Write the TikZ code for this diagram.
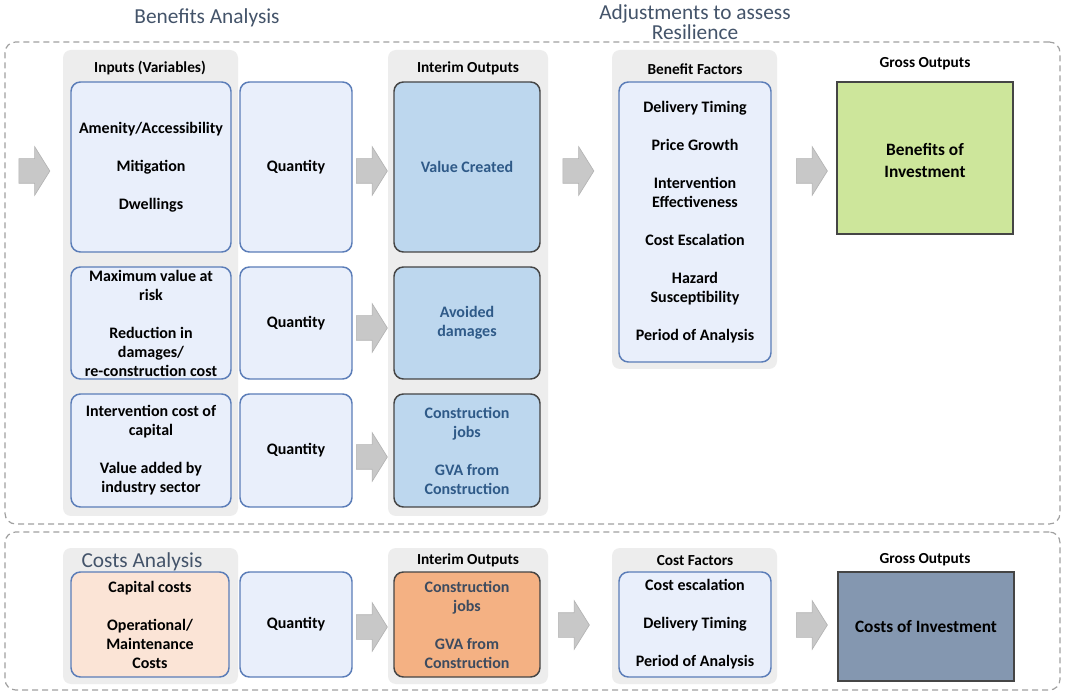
\documentclass[tikz,border=0pt]{standalone}
\usepackage{fontspec}
\setmainfont{Carlito}
\usetikzlibrary{fit,shapes.arrows}
\definecolor{boxblue}{HTML}{E9EFFB}
\definecolor{boxedge}{HTML}{5B7DB8}
\definecolor{intfill}{HTML}{BDD7EE}
\definecolor{intedge}{HTML}{454545}
\definecolor{inttext}{HTML}{2F5A88}
\definecolor{panelc}{HTML}{EDEDED}
\definecolor{dashc}{HTML}{A0A0A0}
\definecolor{greenf}{HTML}{CDE69B}
\definecolor{peach}{HTML}{FBE4D6}
\definecolor{orangef}{HTML}{F4B183}
\definecolor{slatef}{HTML}{8497B0}
\definecolor{titlec}{HTML}{44546A}
\definecolor{arrowf}{HTML}{C8C8C8}
\definecolor{arrowd}{HTML}{B4B4B4}
\begin{document}
\begin{tikzpicture}[x=0.75pt,y=-0.75pt,
  every node/.style={font=\fontsize{12}{14.25}\selectfont\bfseries, align=center, inner sep=0pt},
  dashbox/.style={draw=dashc, line width=0.9pt, dash pattern=on 4.5pt off 3pt, rounded corners=8pt},
  panelbox/.style={fill=panelc, rounded corners=6pt},
  inbox/.style={fill=boxblue, draw=boxedge, line width=1.1pt, rounded corners=7pt},
  peachbox/.style={inbox, fill=peach},
  intbox/.style={fill=intfill, draw=intedge, line width=1.1pt, rounded corners=7pt},
  orangebox/.style={intbox, fill=orangef},
  grossbox/.style={draw=intedge, line width=1.1pt},
  inttxt/.style={text=inttext},
  orangetxt/.style={text=titlec!90!black},
  bigtxt/.style={font=\fontsize{13}{16.5}\selectfont\bfseries},
  label/.style={font=\fontsize{11.5}{13}\selectfont\bfseries},
  title/.style={font=\fontsize{16}{15}\selectfont, text=titlec},
  blockarrow/.style={single arrow, fill=arrowf, draw=arrowd, line width=0.5pt,
    minimum height=23.25pt, single arrow head extend=9pt, inner xsep=0pt, inner ysep=9pt,
    single arrow tip angle=116},
]
\useasboundingbox[fill=white] (0,0) rectangle (1065,695);

% dashed containers
\node[dashbox, fit={(5,42)(1060,524)}] (benefits) {};
\node[dashbox, fit={(5,532)(1060,690)}] (costs) {};

% titles
\node[title] (tba) at (207,18) {Benefits Analysis};
\node[title] (tadj) at (695,22) {Adjustments to assess\\Resilience};

% grey panels
\node[panelbox, fit={(63,50)(238,516)}] (pin) {};
\node[panelbox, fit={(388,50)(548,516)}] (pint) {};
\node[panelbox, fit={(612,50)(777,369)}] (pfac) {};
\node[panelbox, fit={(63,548)(238,684)}] (pcin) {};
\node[panelbox, fit={(388,548)(548,684)}] (pcint) {};
\node[panelbox, fit={(612,548)(777,684)}] (pcfac) {};

% panel labels
\node[label] (lin) at (150,68) {Inputs (Variables)};
\node[label] (lint) at (468,68) {Interim Outputs};
\node[label] (lfac) at (695,69) {Benefit Factors};
\node[label] (lgross) at (925,64) {Gross Outputs};
\node[title] (tca) at (142,562) {Costs Analysis};
\node[label] (lcint) at (468,560) {Interim Outputs};
\node[label] (lcfac) at (695,561) {Cost Factors};
\node[label] (lcgross) at (925,560) {Gross Outputs};

% boxes
\node[inbox, fit={(71,82)(231,252)}] (in1) {};
\node[inbox, fit={(240,82)(352,252)}] (q1) {};
\node[intbox, fit={(394,82)(540,252)}] (vc) {};
\node[inbox, fit={(71,267)(231,379)}] (in2) {};
\node[inbox, fit={(240,267)(352,379)}] (q2) {};
\node[intbox, fit={(394,267)(540,379)}] (ad) {};
\node[inbox, fit={(71,394)(231,507)}] (in3) {};
\node[inbox, fit={(240,394)(352,507)}] (q3) {};
\node[intbox, fit={(394,394)(540,507)}] (cj) {};
\node[inbox, fit={(619,82)(771,362)}] (bf) {};
\node[grossbox, fill=greenf, fit={(837,82)(1013,234)}] (boi) {};
\node[peachbox, fit={(71,572)(229,677)}] (cc) {};
\node[inbox, fit={(240,572)(352,677)}] (q4) {};
\node[orangebox, fit={(394,572)(540,677)}] (ccj) {};
\node[inbox, fit={(619,572)(771,677)}] (cf) {};
\node[grossbox, fill=slatef, fit={(838,572)(1014,681)}] (coi) {};

% box texts
\node (in1t) at (in1.center) {Amenity/Accessibility\\[14.25pt]Mitigation\\[14.25pt]Dwellings};
\node (q1t) at (q1.center) {Quantity};
\node[inttxt] (vct) at (vc.center) {Value Created};
\node (in2t) at (in2.center) {Maximum value at\\risk\\[14.25pt]Reduction in\\damages/\\re-construction cost};
\node (q2t) at (q2.center) {Quantity};
\node[inttxt] (adt) at (ad.center) {Avoided\\damages};
\node (in3t) at (in3.center) {Intervention cost of\\capital\\[14.25pt]Value added by\\industry sector};
\node (q3t) at (q3.center) {Quantity};
\node[inttxt] (cjt) at (cj.center) {Construction\\jobs\\[14.25pt]GVA from\\Construction};
\node (bft) at (bf.center) {Delivery Timing\\[14.25pt]Price Growth\\[14.25pt]Intervention\\Effectiveness\\[14.25pt]Cost Escalation\\[14.25pt]Hazard\\Susceptibility\\[14.25pt]Period of Analysis};
\node[bigtxt] (boit) at ([yshift=-1.5pt]boi.center) {Benefits of\\Investment};
\node (cct) at (cc.center) {Capital costs\\[14.25pt]Operational/\\Maintenance\\Costs};
\node (q4t) at (q4.center) {Quantity};
\node[orangetxt] (ccjt) at (ccj.center) {Construction\\jobs\\[14.25pt]GVA from\\Construction};
\node (cft) at (cf.center) {Cost escalation\\[14.25pt]Delivery Timing\\[14.25pt]Period of Analysis};
\node[bigtxt] (coit) at (coi.center) {Costs of Investment};

% block arrows
\node[blockarrow] (a0) at (30.5,171) {};
\node[blockarrow] (a1) at (368,171) {};
\node[blockarrow] (a2) at (368,328) {};
\node[blockarrow] (a3) at (368,457) {};
\node[blockarrow] (a4) at (574.5,171) {};
\node[blockarrow] (a5) at (808,171) {};
\node[blockarrow] (b1) at (368,627) {};
\node[blockarrow] (b2) at (570,625) {};
\node[blockarrow] (b3) at (808,625) {};
\end{tikzpicture}
\end{document}
